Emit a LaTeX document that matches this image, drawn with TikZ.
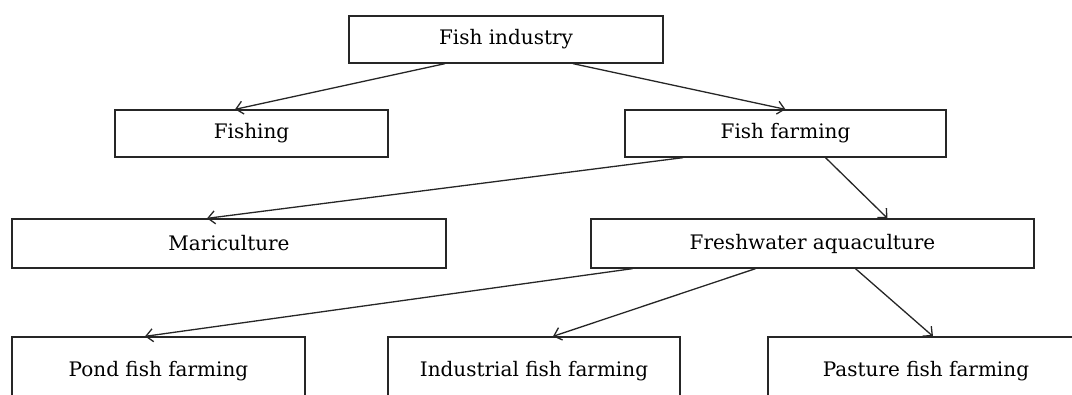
\documentclass[tikz,border=0pt]{standalone}
\usepackage{fontspec}
\setmainfont{DejaVu Serif}
\usetikzlibrary{arrows.meta}
\begin{document}
\begin{tikzpicture}[x=1pt,y=-1pt,
  box/.style={draw=black!85, line width=1.3pt, rectangle, inner sep=0pt, font=\fontsize{20}{22}\selectfont},
  conn/.style={draw=black!85, line width=1.3pt, -{Straight Barb[length=7pt,width=13pt,line width=1.3pt]}}]
\useasboundingbox (0,0) rectangle (1072,394);
\clip (0,0) rectangle (1072,394);
\node[box, minimum width=314pt, minimum height=47pt] (fi) at (506,39.5) {Fish industry};
\node[box, minimum width=273pt, minimum height=47pt] (fishing) at (251.5,133.5) {Fishing};
\node[box, minimum width=321pt, minimum height=47pt] (ff) at (785.5,133.5) {Fish farming};
\node[box, minimum width=434pt, minimum height=49pt] (mc) at (229,243.5) {Mariculture};
\node[box, minimum width=443pt, minimum height=49pt] (fw) at (812.5,243.5) {Freshwater aquaculture};
\node[box, minimum width=293pt, minimum height=68pt] (pond) at (158.5,371) {Pond fish farming};
\node[box, minimum width=292pt, minimum height=68pt] (ind) at (534,371) {Industrial fish farming};
\node[box, minimum width=316pt, minimum height=68pt] (pas) at (926,371) {Pasture fish farming};
\draw[conn] ([xshift=-61pt]fi.south) -- ([xshift=-16.5pt]fishing.north);
\draw[conn] ([xshift=67pt]fi.south) -- (ff.north);
\draw[conn] ([xshift=-102.5pt]ff.south) -- ([xshift=-22pt]mc.north);
\draw[conn] ([xshift=40pt]ff.south) -- ([xshift=75pt]fw.north);
\draw[conn] ([xshift=-180pt]fw.south) -- ([xshift=-13.5pt]pond.north);
\draw[conn] ([xshift=-57pt]fw.south) -- ([xshift=19pt]ind.north);
\draw[conn] ([xshift=43pt]fw.south) -- ([xshift=7pt]pas.north);
\end{tikzpicture}
\end{document}
